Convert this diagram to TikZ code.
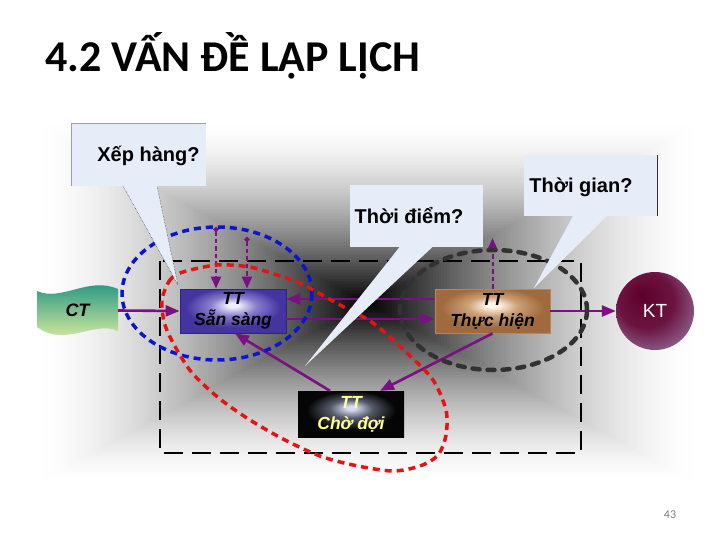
\documentclass[tikz,border=0pt]{standalone}
\usepackage{fontspec}
\setmainfont{Liberation Sans}
\newfontfamily\calib{Carlito}
\usetikzlibrary{arrows.meta}
\definecolor{purp}{RGB}{122,16,130}
\definecolor{callfill}{RGB}{230,237,248}
\definecolor{bluedash}{RGB}{10,20,210}
\definecolor{reddash}{RGB}{228,20,20}
\definecolor{graydash}{RGB}{50,50,50}
\definecolor{ssC}{RGB}{238,238,252}
\definecolor{ssM}{RGB}{135,125,205}
\definecolor{ssE}{RGB}{68,52,160}
\definecolor{ssB}{RGB}{45,35,130}
\definecolor{thC}{RGB}{255,246,236}
\definecolor{thM}{RGB}{205,160,118}
\definecolor{thE}{RGB}{160,105,62}
\definecolor{cdC}{RGB}{215,222,242}
\definecolor{cdM}{RGB}{85,90,105}
\definecolor{cdE}{RGB}{5,5,5}
\definecolor{ktA}{RGB}{92,0,42}
\definecolor{ktB}{RGB}{108,20,64}
\definecolor{ktC}{RGB}{160,142,186}
\definecolor{ctT}{RGB}{20,140,130}
\definecolor{ctB}{RGB}{240,248,160}
\definecolor{cdText}{RGB}{255,255,150}
\pgfdeclareradialshading{sssh}{\pgfpoint{0bp}{7bp}}{color(0bp)=(ssC); color(2.5bp)=(ssC); color(11bp)=(ssM); color(22.5bp)=(ssE); color(50bp)=(ssE)}
\pgfdeclareradialshading{thsh}{\pgfpoint{0bp}{7bp}}{color(0bp)=(thC); color(2.5bp)=(thC); color(11bp)=(thM); color(22.5bp)=(thE); color(50bp)=(thE)}
\pgfdeclareradialshading{cdsh}{\pgfpoint{0bp}{7bp}}{color(0bp)=(cdC); color(2bp)=(cdC); color(10bp)=(cdM); color(21bp)=(cdE); color(50bp)=(cdE)}
\pgfdeclareradialshading{ktsh}{\pgfpoint{-9bp}{11bp}}{color(0bp)=(ktA); color(18bp)=(ktB); color(40bp)=(ktC); color(50bp)=(ktC)}
\tikzset{
  tbox/.style={rectangle, align=center, inner sep=0pt, font=\fontsize{17.5pt}{21pt}\selectfont\bfseries\itshape},
  cbox/.style={rectangle, fill=callfill, inner sep=0pt},
  ctext/.style={inner sep=0pt, anchor=base, font=\fontsize{20pt}{24pt}\selectfont\bfseries},
  arr/.style={draw=purp, line width=2.6pt, -{Triangle[length=14pt,width=11pt]}},
  darr/.style={draw=purp, line width=2pt, dash pattern=on 4.5pt off 3pt, {Circle[length=5pt]}-{Triangle[length=12pt,width=10pt]}},
  bluering/.style={draw=bluedash, line width=3.5pt, dash pattern=on 7pt off 5pt},
  redring/.style={draw=reddash, line width=3.5pt, dash pattern=on 7pt off 5pt},
  grayring/.style={draw=graydash, line width=4.5pt, dash pattern=on 7pt off 8pt, line cap=round},
  frame/.style={draw=black, line width=2.8pt, dash pattern=on 19pt off 9pt}
}
\begin{document}
\begin{tikzpicture}[x=1pt,y=-1pt]
\useasboundingbox (0,0) rectangle (720,540);
\fill[white] (0,0) rectangle (720,540);
% background: rectangular gradient, dark at (367,303), white at the edges
\foreach \i in {120,...,1}{
  \pgfmathsetmacro\t{\i/120}
  \pgfmathsetmacro\g{max(0,min(1,1-(1.004-\t)^1.6))}
  \pgfmathsetmacro\xa{367-330*\t}
  \pgfmathsetmacro\xb{367+330*\t}
  \pgfmathsetmacro\ya{303-180*\t}
  \pgfmathsetmacro\yb{303+180*\t}
  \definecolor{bgstep}{gray}{\g}
  \fill[bgstep] (\xa,\ya) rectangle (\xb,\yb);
}
% title and page number
\node[anchor=base west, inner sep=0pt, font=\calib\bfseries\fontsize{44pt}{50pt}\selectfont] (title) at (45,72) {4.2 VẤN ĐỀ LẬP LỊCH};
\node[inner sep=0pt, text=gray, font=\calib\fontsize{12pt}{14pt}\selectfont] (pg) at (670,515) {43};
% dashed frame
\draw[frame] (160,261) rectangle (581,453);
% CT wave shape
\shade[top color=ctT, bottom color=ctB] (37,291) .. controls (62,302) and (88,276) .. (118,289) -- (118,331) .. controls (95,320) and (65,348) .. (37,327) -- cycle;
\node[inner sep=0pt, minimum width=81pt, minimum height=36pt, font=\fontsize{18pt}{21pt}\selectfont\bfseries\itshape] (ct) at (77.5,310.5) {CT};
% boxes
\node[tbox, shade, shading=sssh, draw=ssB, line width=0.8pt, minimum width=106pt, minimum height=44pt] (ss) at (233,311) {TT\\Sẵn sàng};
\node[tbox, shade, shading=thsh, draw=thE!80!white, line width=0.8pt, minimum width=115pt, minimum height=44pt] (th) at (492.5,311) {TT\\Thực hiện};
\node[tbox, shade, shading=cdsh, minimum width=106pt, minimum height=46pt, text=cdText, font=\fontsize{17.5pt}{21pt}\selectfont\bfseries\itshape] (cd) at (351,414) {TT\\Chờ đợi};
\node[circle, shade, shading=ktsh, minimum size=78pt, inner sep=0pt, text=white, font=\fontsize{19pt}{22pt}\selectfont] (kt) at (655,311) {KT};
% arrows
\draw[arr] (ct.east) -- (ss.west);
\draw[arr] ([yshift=12pt]th.west) -- ([yshift=12pt]ss.east);
\draw[arr] ([yshift=-8pt]ss.east) -- ([yshift=-8pt]th.west);
\draw[arr] (th.east) -- (kt.west);
\draw[arr] (th.south) -- ([xshift=29pt]cd.north);
\draw[arr] ([xshift=-21pt]cd.north) -- ([xshift=2pt]ss.south);
\coordinate (q1) at (216,227);
\coordinate (q2) at (247,237);
\coordinate (q3) at (492.5,238);
\draw[darr] (q1) -- (q1 |- ss.north);
\draw[darr] (q2) -- (q2 |- ss.north);
\draw[draw=purp, line width=2pt, dash pattern=on 4.5pt off 3pt, -{Triangle[length=12pt,width=10pt]}] (th.north) -- (q3);
% dashed rings
\draw[bluering] (217,293.5) ellipse [x radius=95pt, y radius=66.5pt];
\draw[grayring] (493.5,310) ellipse [x radius=93.5pt, y radius=60pt];
\draw[redring] plot[smooth cycle] coordinates {(162,300) (170,280) (183,272) (217,265) (250,267) (277,275) (300,283) (340,305) (373,323) (407,353) (433,380) (446,410) (446,435) (438,455) (420,466) (392,471) (353,465) (320,456) (285,440) (250,420) (220,399) (193,374) (177,350) (165,325)};
% callout: Xep hang
\node[cbox, minimum width=134pt, minimum height=62pt] (xhb) at (139,155) {};
\draw[gray!75, line width=1pt] (xhb.south west) -- (xhb.north west) -- (xhb.north east);
\fill[callfill] (123,186) -- (178,285) -- (157,186) -- cycle;
\draw[gray!40!black, line width=0.5pt, densely dotted] (123,186) -- (178,285) -- (157,186);
\node[ctext] (xht) at (148.5,162) {Xếp hàng?};
% callout: Thoi gian
\node[cbox, minimum width=133pt, minimum height=61pt] (tgb) at (590.5,185.5) {};
\draw[graydash, line width=1.3pt] (tgb.north east) -- (tgb.south east);
\fill[callfill] (573,216) -- (534,288) -- (607,216) -- cycle;
\node[ctext] (tgt) at (581,193) {Thời gian?};
% callout: Thoi diem
\node[cbox, minimum width=133pt, minimum height=62pt] (tdb) at (416.5,216) {};
\fill[callfill] (400,246.5) -- (305,366) -- (433,246.5) -- cycle;
\node[ctext] (tdt) at (409,223) {Thời điểm?};
\end{tikzpicture}
\end{document}
